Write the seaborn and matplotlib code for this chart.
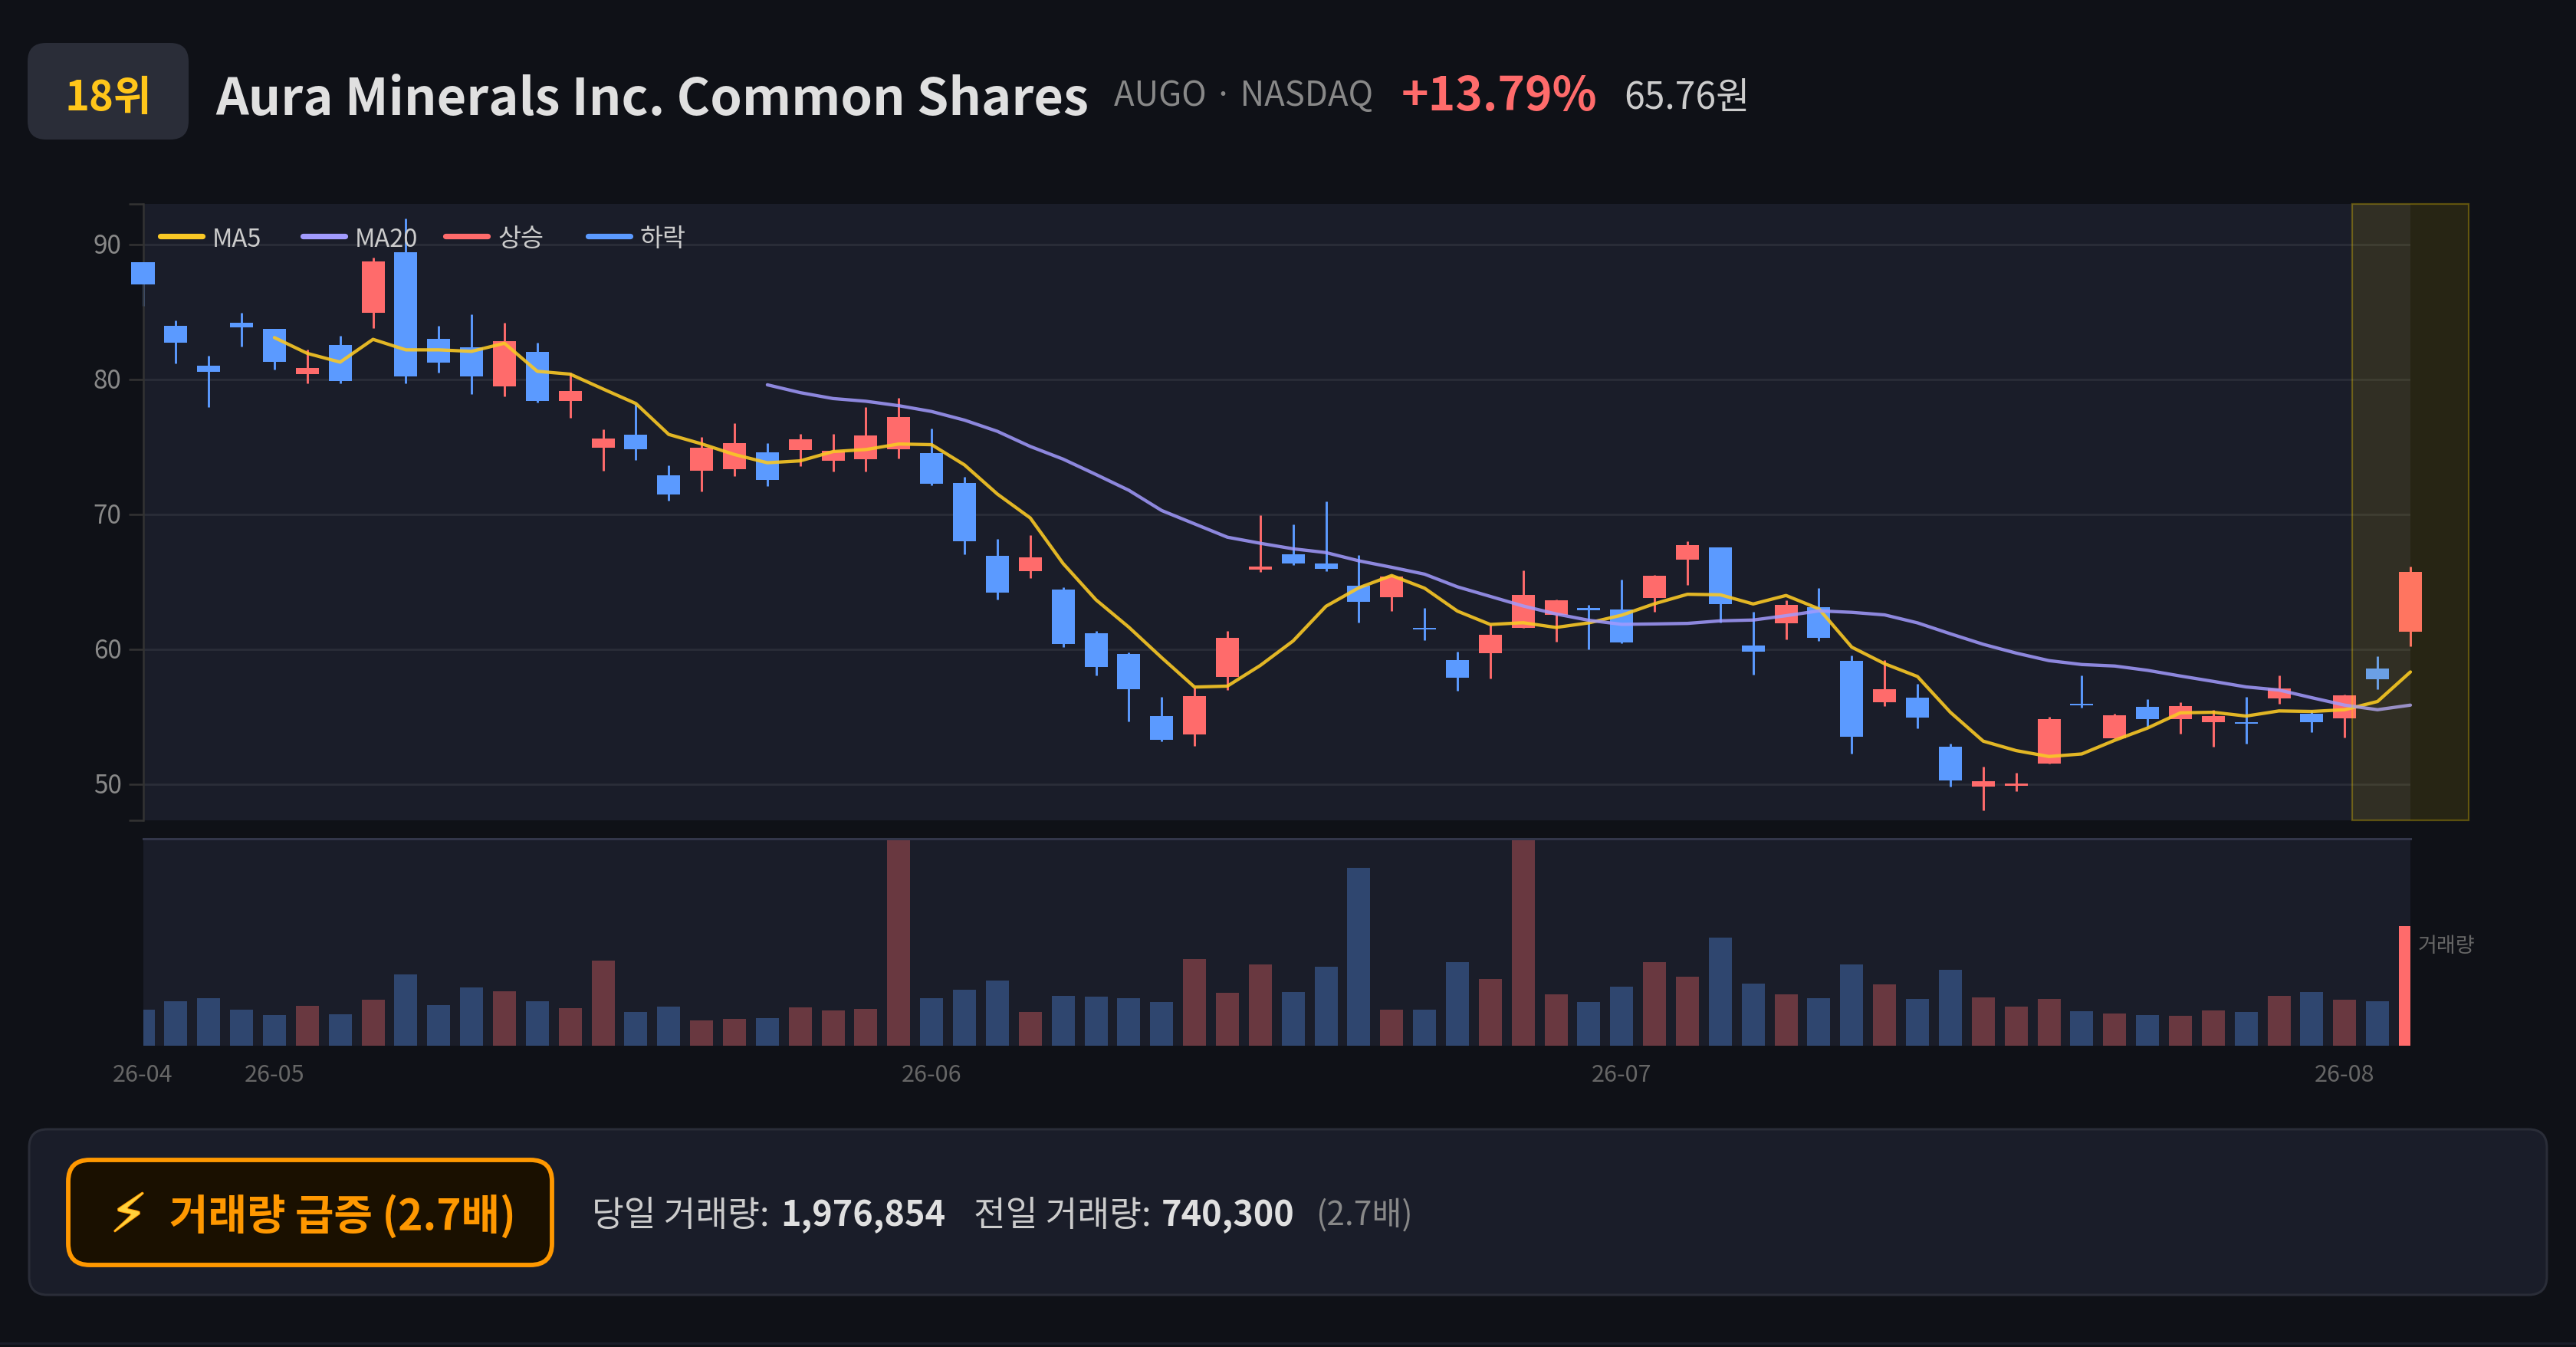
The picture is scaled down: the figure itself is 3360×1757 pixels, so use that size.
import numpy as np
import pandas as pd
import matplotlib.pyplot as plt
import matplotlib.patheffects as pe
from matplotlib.patches import FancyBboxPatch
from matplotlib.transforms import ScaledTranslation
import seaborn as sns

# candles
opens = [88.71, 83.97, 81.06, 84.22, 83.75, 80.41, 82.59, 84.96, 89.43, 83.01,
         82.38, 79.52, 82.06, 78.44, 74.93, 75.94, 72.89, 73.24, 73.35, 74.60,
         74.77, 74.01, 74.09, 74.85, 74.54, 72.36, 66.95, 65.79, 64.42, 61.19,
         59.64, 55.08, 53.71, 57.97, 65.91, 67.06, 66.40, 64.70, 63.88, 61.62,
         59.21, 59.70, 61.60, 62.54, 63.09, 62.94, 63.84, 66.63, 67.59, 60.27,
         61.91, 63.14, 59.17, 56.06, 56.40, 52.77, 49.81, 49.91, 51.55, 55.98,
         53.41, 55.74, 54.81, 54.62, 54.62, 56.36, 55.23, 54.91, 58.60, 61.34]
closes = [87.04, 82.76, 80.60, 83.90, 81.32, 80.85, 79.88, 88.77, 80.24, 81.28,
          80.22, 82.84, 78.44, 79.16, 75.62, 74.86, 71.47, 74.96, 75.28, 72.59,
          75.58, 74.72, 75.84, 77.23, 72.28, 68.02, 64.21, 66.83, 60.41, 58.68,
          57.06, 53.30, 56.55, 60.86, 66.17, 66.37, 65.99, 63.53, 65.40, 61.50,
          57.89, 61.09, 64.06, 63.62, 62.92, 60.51, 65.44, 67.71, 63.37, 59.83,
          63.33, 60.83, 53.54, 57.05, 54.92, 50.28, 50.21, 50.06, 54.81, 55.83,
          55.09, 54.81, 55.78, 55.04, 54.49, 57.10, 54.58, 56.59, 57.80, 65.76]
highs = [88.71, 84.37, 81.76, 84.94, 83.75, 82.25, 83.23, 89.05, 91.93, 83.99,
         84.83, 84.22, 82.74, 80.54, 76.30, 78.17, 73.63, 75.77, 76.76, 75.28,
         75.99, 75.99, 77.94, 78.63, 76.35, 72.82, 68.20, 68.45, 64.59, 61.35,
         59.75, 56.47, 57.16, 61.35, 69.97, 69.29, 70.99, 66.98, 65.50, 63.05,
         59.82, 61.85, 65.86, 63.69, 63.30, 65.15, 65.51, 68.01, 67.59, 62.80,
         63.67, 64.53, 59.56, 59.20, 57.46, 53.01, 51.29, 50.83, 54.98, 58.05,
         55.25, 56.29, 56.10, 55.49, 56.48, 58.07, 55.44, 56.67, 59.49, 66.12]
lows = [85.47, 81.21, 77.99, 82.48, 80.75, 79.75, 79.75, 83.82, 79.73, 80.51,
        78.91, 78.76, 78.33, 77.19, 73.25, 74.04, 71.05, 71.73, 72.87, 72.13,
        73.60, 73.17, 73.17, 74.16, 72.18, 67.08, 63.71, 65.28, 60.15, 58.07,
        54.64, 53.20, 52.84, 57.01, 65.76, 66.24, 65.79, 61.98, 62.87, 60.66,
        56.93, 57.82, 61.57, 60.57, 60.00, 60.47, 62.78, 64.79, 61.97, 58.13,
        60.74, 60.64, 52.25, 55.81, 54.13, 49.85, 48.05, 49.51, 51.55, 55.66,
        53.41, 54.24, 53.75, 52.80, 53.03, 55.95, 53.84, 53.48, 57.05, 60.23]
volumes = [595900, 733400, 790700, 590200, 510000, 653200, 521400, 756400, 1174700, 670400,
           956900, 899600, 733400, 624600, 1409600, 561500, 641800, 412600, 446900, 452700,
           630300, 578700, 613100, 3600000, 790700, 928300, 1077200, 561500, 825100, 813700,
           790700, 722000, 1432500, 876700, 1340800, 888200, 1300700, 2939500, 601700, 601700,
           1386700, 1105900, 3600000, 848000, 716300, 974100, 1380900, 1140300, 1787800, 1025700,
           853800, 785000, 1346600, 1019900, 767800, 1260600, 796500, 647500, 767800, 573000,
           532900, 504200, 492800, 578700, 561500, 819400, 888200, 762100, 740300, 1976854]

# MA5 starts at candle 4, MA20 at candle 19
ma5 = [83.12, 81.95, 81.30, 82.99, 82.21, 82.21, 82.10, 82.70, 80.62, 80.41,
       79.31, 78.23, 75.94, 75.24, 74.45, 73.84, 73.98, 74.67, 74.82, 75.23,
       75.18, 73.68, 71.52, 69.75, 66.37, 63.68, 61.65, 59.39, 57.21, 57.28,
       58.81, 60.63, 63.20, 64.57, 65.48, 64.54, 62.84, 61.85, 61.98, 61.63,
       61.97, 62.54, 63.39, 64.09, 64.05, 63.37, 64.00, 63.01, 60.17, 58.94,
       57.99, 55.34, 53.20, 52.50, 52.06, 52.25, 53.26, 54.17, 55.30, 55.34,
       55.06, 55.44, 55.40, 55.53, 56.14, 58.33]
ma20 = [79.62, 79.04, 78.60, 78.40, 78.07, 77.64, 77.00, 76.17, 75.05, 74.11,
        72.97, 71.80, 70.30, 69.31, 68.32, 67.87, 67.46, 67.18, 66.57, 66.09,
        65.58, 64.64, 63.93, 63.22, 62.63, 62.16, 61.86, 61.89, 61.93, 62.12,
        62.18, 62.50, 62.86, 62.75, 62.56, 61.97, 61.16, 60.38, 59.73, 59.17,
        58.88, 58.77, 58.45, 58.03, 57.63, 57.22, 56.99, 56.42, 55.87, 55.53,
        55.87]

price_ticks = [50, 60, 70, 80, 90]
month_idx = [0, 4, 24, 45, 67]
month_labels = ['26-04', '26-05', '26-06', '26-07', '26-08']
legend_names = ['MA5', 'MA20', '상승', '하락']

BG = '#0f1117'
PANEL = '#1a1d29'
GRID = '#2a2d38'
RED = '#ff6b6b'
BLUE = '#5b9aff'
YELLOW = '#f9c825'
PURPLE = '#a29bfe'
ORANGE = '#ff9800'
W, H = 3360, 1758

sns.set_theme(style='dark')
plt.rcParams['font.family'] = ['Noto Sans CJK KR', 'DejaVu Sans']

fig = plt.figure(figsize=(W / 100, H / 100), dpi=100, facecolor=BG)


def axes_px(left, top, right, bottom):
    return fig.add_axes([left / W, 1 - bottom / H, (right - left) / W, (bottom - top) / H])


df = pd.DataFrame({'idx': np.arange(len(opens)), 'open': opens, 'close': closes,
                   'high': highs, 'low': lows, 'volume': volumes})
df['dir'] = np.where(df['close'] >= df['open'], 'up', 'down')
df.loc[df.index[-1], 'dir'] = 'today'
candle_colors = np.where(df['close'] >= df['open'], RED, BLUE)

# price panel
ax = axes_px(186.5, 267, 3144, 1071)
ax.set_facecolor(PANEL)
ax.vlines(df['idx'], df['low'], df['high'], colors=candle_colors, lw=2.1, zorder=2, clip_on=False)
ax.bar(df['idx'], (df['close'] - df['open']).abs(), bottom=df[['open', 'close']].min(axis=1),
       width=0.7, color=candle_colors, linewidth=0, zorder=3, clip_on=False)
sns.lineplot(x=df['idx'].values[4:], y=ma5, color=YELLOW, lw=3.1, alpha=0.9, ax=ax, zorder=4,
             errorbar=None, clip_on=False)
sns.lineplot(x=df['idx'].values[19:], y=ma20, color=PURPLE, lw=3.1, alpha=0.85, ax=ax, zorder=4,
             errorbar=None, clip_on=False)
ax.axvspan(67.22, 70.78, facecolor=(1, 0.84, 0, 0.1), edgecolor=(1, 0.84, 0, 0.3), lw=1.6,
           zorder=5, clip_on=False)
ax.set_xlim(0, 69)
ax.set_ylim(47.33, 93.03)
ax.set_yticks(price_ticks)
ax.set_yticks([47.33, 93.03], minor=True)
ax.set_xticks([])
ax.set_xlabel('')
ax.set_ylabel('')
ax.grid(axis='y', which='major', color=GRID, lw=2)
ax.set_axisbelow(True)
ax.tick_params(axis='y', which='both', length=14, width=1.8, color='#333333', left=True,
               labelsize=24, labelcolor='#888888', pad=6)
# labels sit a little above their grid lines
for label in ax.get_yticklabels():
    label.set_transform(label.get_transform() + ScaledTranslation(0, 3 / 100, fig.dpi_scale_trans))
for side in ['top', 'right', 'bottom']:
    ax.spines[side].set_visible(False)
ax.spines['left'].set_color('#333333')
ax.spines['left'].set_linewidth(1.8)
ax.spines['left'].set_zorder(2.5)

# volume panel
ax_vol = axes_px(186.5, 1095, 3144, 1365)
ax_vol.set_facecolor(PANEL)
sns.barplot(data=df, x='idx', y='volume', hue='dir', hue_order=['up', 'down', 'today'],
            palette={'up': RED, 'down': BLUE, 'today': RED}, native_scale=True, dodge=False,
            width=0.7, saturation=1, linewidth=0, legend=False, ax=ax_vol)
for bars, alpha in zip(ax_vol.containers, [0.35, 0.33, 1]):
    for bar in bars:
        bar.set_alpha(alpha)
ax_vol.set_xlim(0, 69)
ax_vol.set_ylim(0, 3420800)
ax_vol.set_yticks([])
ax_vol.set_xticks(month_idx)
ax_vol.set_xticklabels(month_labels)
ax_vol.tick_params(axis='x', length=0, labelsize=22, labelcolor='#666666', pad=16)
ax_vol.set_xlabel('')
ax_vol.set_ylabel('')
ax_vol.grid(False)
for side in ['left', 'right', 'bottom']:
    ax_vol.spines[side].set_visible(False)
ax_vol.spines['top'].set_color('#33364a')
ax_vol.spines['top'].set_linewidth(2.2)

# everything laid out in screen pixels
ov = axes_px(0, 0, W, H)
ov.set_xlim(0, W)
ov.set_ylim(H, 0)
ov.axis('off')
ov.patch.set_alpha(0)
ov.set_zorder(10)


def box(x0, y0, x1, y1, radius, face, edge, lw):
    ov.add_patch(FancyBboxPatch((x0, y0), x1 - x0, y1 - y0,
                                boxstyle=f'round,pad=0,rounding_size={radius}',
                                facecolor=face, edgecolor=edge, linewidth=lw))


# header
box(36, 57, 246, 183, 24, '#2a2d38', 'none', 0)
ov.text(141, 144, '18위', color='#ffc61a', fontsize=39, fontweight='bold', ha='center', va='baseline')
ov.text(281, 150, 'Aura Minerals Inc. Common Shares', color='#e0e0e0', fontsize=48,
        fontweight='bold', ha='left', va='baseline')
ov.text(1453, 138, 'AUGO · NASDAQ', color='#888888', fontsize=31.5, ha='left', va='baseline')
ov.text(1828, 144, '+13.79%', color=RED, fontsize=43.5, fontweight='bold', ha='left', va='baseline')
ov.text(2118, 142, '65.76원', color='#cccccc', fontsize=34.6, ha='left', va='baseline')

# legend
for i, (name, col) in enumerate(zip(legend_names, [YELLOW, PURPLE, RED, BLUE])):
    x0 = 209 + 186 * i
    ov.plot([x0, x0 + 55], [309, 309], color=col, lw=5.2, solid_capstyle='round')
    ov.text(x0 + 68, 309, name, color='#cccccc', fontsize=23.5, ha='left', va='center_baseline')

ov.text(3154, 1232, '거래량', color='#666666', fontsize=19.5, ha='left', va='center_baseline')

# alert panel
box(38, 1474, 3322, 1690, 24, PANEL, '#2a2d38', 2.2)
box(89, 1514, 720, 1651, 28, '#1a1000', ORANGE, 4.2)
bolt = ov.text(168, 1581, '⚡', color='#ffd23c', fontsize=50, family='DejaVu Sans', ha='center', va='center_baseline')
bolt.set_path_effects([pe.withStroke(linewidth=1.5, foreground=ORANGE)])
ov.text(221, 1581, '거래량 급증 (2.7배)', color=ORANGE, fontsize=39.5, fontweight='bold',
        ha='left', va='center_baseline')
ov.text(772, 1581, '당일 거래량:', color='#cccccc', fontsize=32.7, ha='left', va='center_baseline')
ov.text(1018, 1581, '1,976,854', color='#e0e0e0', fontsize=32.4, fontweight='bold', ha='left', va='center_baseline')
ov.text(1270, 1581, '전일 거래량:', color='#cccccc', fontsize=32.7, ha='left', va='center_baseline')
ov.text(1515, 1581, '740,300', color='#e0e0e0', fontsize=32.4, fontweight='bold', ha='left', va='center_baseline')
ov.text(1716, 1581, '(2.7배)', color='#888888', fontsize=30.5, ha='left', va='center_baseline')

# thin strip along the bottom edge
ov.plot([0, W], [1753, 1753], color=PANEL, lw=2.2)

fig.savefig('out.png', dpi=100, facecolor=BG)
